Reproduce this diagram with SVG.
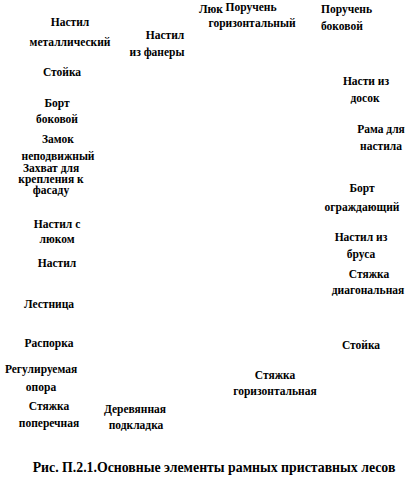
<svg xmlns="http://www.w3.org/2000/svg" width="420" height="490" viewBox="0 0 420 490">
<style>
text{font-family:"Liberation Serif","DejaVu Serif",serif;font-weight:bold;font-size:11.5px;fill:#000;text-anchor:middle}
.s{text-anchor:start}
.cap{font-size:13.8px}
</style>
<rect width="420" height="490" fill="#fff"/>
<g id="lyuk"><text x="211" y="13">Люк</text></g>
<g id="poruchen-gor"><text x="251" y="11">Поручень</text><text x="252" y="27">горизонтальный</text></g>
<g id="poruchen-bok"><text class="s" x="321" y="13">Поручень</text><text class="s" x="321" y="30">боковой</text></g>
<g id="nastil-met"><text x="70" y="26">Настил</text><text x="70" y="46">металлический</text></g>
<g id="nastil-fan"><text x="165" y="39">Настил</text><text x="157" y="56">из фанеры</text></g>
<g id="stoyka-1"><text x="62" y="76">Стойка</text></g>
<g id="bort-bok"><text x="57" y="107">Борт</text><text x="57" y="123">боковой</text></g>
<g id="zamok"><text x="58" y="143">Замок</text><text x="58" y="160">неподвижный</text></g>
<g id="zakhvat"><text x="51" y="172">Захват для</text><text x="51" y="183">крепления к</text><text x="51" y="194">фасаду</text></g>
<g id="nastil-lyuk"><text x="57" y="228">Настил с</text><text x="57" y="243">люком</text></g>
<g id="nastil"><text x="57" y="267">Настил</text></g>
<g id="lestnitsa"><text x="49" y="308">Лестница</text></g>
<g id="rasporka"><text x="49" y="347">Распорка</text></g>
<g id="opora"><text x="41" y="373">Регулируемая</text><text x="41" y="391">опора</text></g>
<g id="styazhka-pop"><text x="49" y="410">Стяжка</text><text x="49" y="427">поперечная</text></g>
<g id="podkladka"><text x="135" y="413">Деревянная</text><text x="136" y="429">подкладка</text></g>
<g id="styazhka-gor"><text x="275" y="379">Стяжка</text><text x="275" y="395">горизонтальная</text></g>
<g id="stoyka-2"><text x="361" y="349">Стойка</text></g>
<g id="nastil-brus"><text x="361" y="241">Настил из</text><text x="361" y="258">бруса</text></g>
<g id="styazhka-diag"><text x="369" y="278">Стяжка</text><text x="368" y="294">диагональная</text></g>
<g id="bort-ogr"><text x="362" y="192">Борт</text><text x="362" y="211">ограждающий</text></g>
<g id="rama"><text x="381" y="133">Рама для</text><text x="381" y="150">настила</text></g>
<g id="nastil-dosok"><text x="366" y="85">Насти из</text><text x="365" y="102">досок</text></g>
<g id="caption"><text class="cap" x="214" y="472">Рис. П.2.1.Основные элементы рамных приставных лесов</text></g>
</svg>
